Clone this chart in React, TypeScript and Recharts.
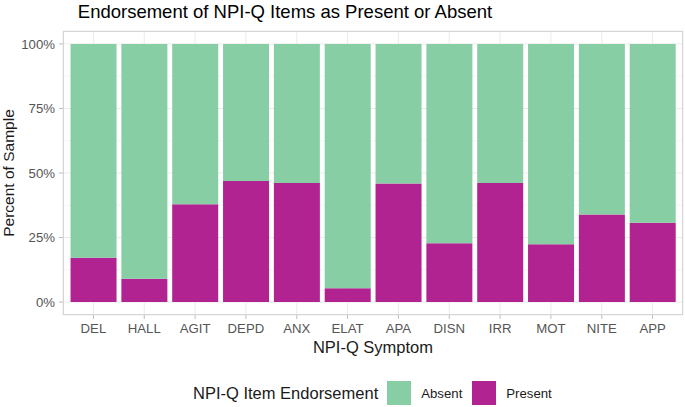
import React from 'react'
import { BarChart, Bar, XAxis, YAxis, CartesianGrid, Label } from 'recharts'

const symptoms = ['DEL', 'HALL', 'AGIT', 'DEPD', 'ANX', 'ELAT', 'APA', 'DISN', 'IRR', 'MOT', 'NITE', 'APP']
const presentPct = [17.2, 9.0, 37.9, 46.9, 46.1, 5.4, 45.9, 22.8, 46.1, 22.4, 33.9, 30.7]
const absentPct = [82.8, 91.0, 62.1, 53.1, 53.9, 94.6, 54.1, 77.2, 53.9, 77.6, 66.1, 69.3]
const yTicks = [0, 25, 50, 75, 100]
const yMinorTicks = [12.5, 37.5, 62.5, 87.5]

const ABSENT = '#88CEA5'
const PRESENT = '#B02390'
const FONT = '"Liberation Sans", Arial, Helvetica, sans-serif'

const data = symptoms.map((s, i) => ({
  symptom: s,
  Present: presentPct[i],
  Absent: absentPct[i],
}))

const YTitle = (props: any) => {
  const vb = props.viewBox || { x: 0, y: 31, width: 63, height: 284 }
  const cx = vb.x + 14
  const cy = vb.y + vb.height / 2
  return (
    <text x={cx} y={cy} transform={`rotate(-90 ${cx} ${cy})`} textAnchor="middle" fontSize={15.5} fill="#1a1a1a" fontFamily={FONT}>
      Percent of Sample
    </text>
  )
}

const XTitle = (props: any) => {
  const vb = props.viewBox || { x: 63, y: 315, width: 620, height: 40 }
  return (
    <text x={vb.x + vb.width / 2} y={vb.y + 37.5} textAnchor="middle" fontSize={16.5} fill="#1a1a1a" fontFamily={FONT}>
      NPI-Q Symptom
    </text>
  )
}

export default function App() {
  return (
    <div style={{ position: 'relative', width: 685, height: 407, fontFamily: FONT, background: '#fff' }}>
      <style>{`body { margin: 0; }`}</style>
      <div
        style={{
          position: 'absolute', top: 3, left: 0, width: 570, textAlign: 'center',
          fontSize: 18.5, lineHeight: '18px', color: '#000',
        }}
      >
        Endorsement of NPI-Q Items as Present or Absent
      </div>

      <BarChart
        width={685}
        height={407}
        data={data}
        margin={{ top: 31, right: 2, bottom: 52, left: 0 }}
        barCategoryGap="5%"
      >
        <CartesianGrid horizontalValues={yMinorTicks} vertical={false} stroke="#EDEDED" strokeWidth={0.6} />
        <CartesianGrid stroke="#EBEBEB" strokeWidth={1} />
        <XAxis
          dataKey="symptom"
          padding={{ left: 5, right: 5 }}
          height={40}
          axisLine={false}
          tickSize={4}
          tickMargin={5}
          tickLine={{ stroke: '#BDBDBD' }}
          tick={{ fontSize: 13.2, fill: '#555555', fontFamily: FONT }}
          interval={0}
        >
          <Label content={XTitle} />
        </XAxis>
        <YAxis
          type="number"
          domain={[-5, 105]}
          ticks={yTicks}
          allowDataOverflow
          width={63}
          axisLine={false}
          tickSize={4}
          tickMargin={4}
          tickLine={{ stroke: '#BDBDBD' }}
          tick={{ fontSize: 13.2, fill: '#555555', fontFamily: FONT }}
          tickFormatter={(v: number) => `${v}%`}
        >
          <Label content={YTitle} />
        </YAxis>
        <Bar dataKey="Present" stackId="a" fill={PRESENT} isAnimationActive={false} />
        <Bar dataKey="Absent" stackId="a" fill={ABSENT} isAnimationActive={false} />
      </BarChart>

      <div
        style={{
          position: 'absolute', left: 63, top: 31, width: 620, height: 284,
          border: '1px solid #D6D6D6', boxSizing: 'border-box', pointerEvents: 'none',
        }}
      />

      <div style={{ position: 'absolute', top: 381, left: 193, height: 24, display: 'flex', alignItems: 'center' }}>
        <span style={{ fontSize: 16.5, color: '#1a1a1a', marginRight: 9 }}>NPI-Q Item Endorsement</span>
        <span style={{ width: 24, height: 24, background: ABSENT, display: 'inline-block', marginRight: 10 }} />
        <span style={{ fontSize: 13.2, color: '#1a1a1a', marginRight: 10 }}>Absent</span>
        <span style={{ width: 24, height: 24, background: PRESENT, display: 'inline-block', marginRight: 10 }} />
        <span style={{ fontSize: 13.2, color: '#1a1a1a' }}>Present</span>
      </div>
    </div>
  )
}
